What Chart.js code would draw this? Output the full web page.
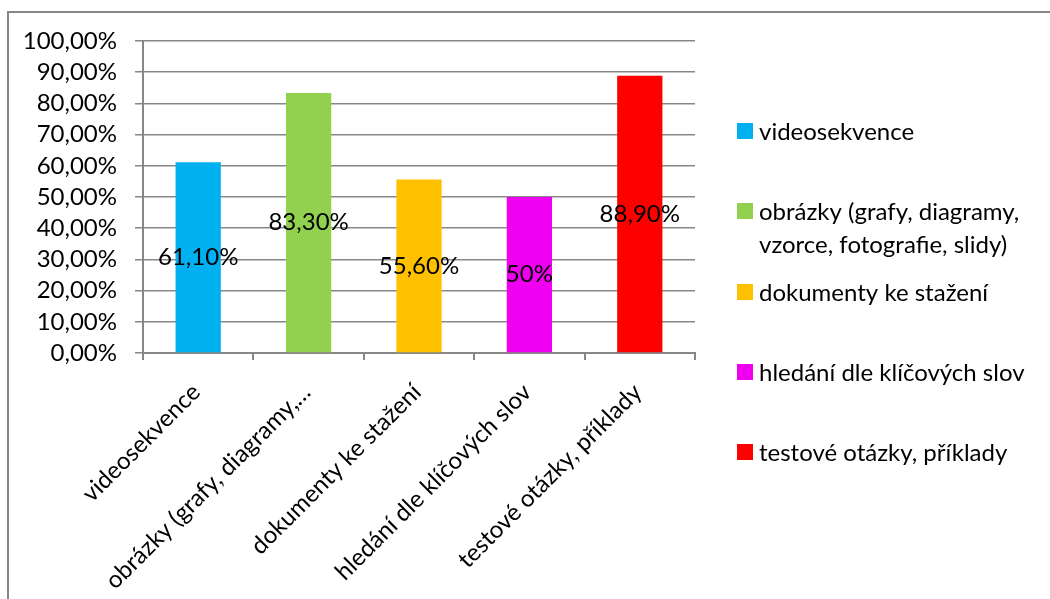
<!DOCTYPE html>
<html><head><meta charset="utf-8">
<script src="https://cdn.jsdelivr.net/npm/chart.js@4.4.1/dist/chart.umd.min.js"></script>
<style>
html,body{margin:0;padding:0;background:#fff;overflow:hidden}
#wrap{position:relative;width:1050px;height:599px;overflow:hidden}
#frame{position:absolute;left:7px;top:11px;width:1100px;height:700px;border-top:2px solid #868686;border-left:2px solid #868686;}
canvas{position:absolute;left:0;top:0}
</style></head><body>
<div id="wrap"><div id="frame"></div><canvas id="c" width="1050" height="599"></canvas></div>
<script>
const categories = ['videosekvence','obrázky (grafy, diagramy, vzorce, fotografie, slidy)','dokumenty ke stažení','hledání dle klíčových slov','testové otázky, příklady'];
const tickLabels = ['videosekvence','obrázky (grafy, diagramy,…','dokumenty ke stažení','hledání dle klíčových slov','testové otázky, příklady'];
const values = [61.1, 83.3, 55.6, 50, 88.9];
const dataLabels = ['61,10%','83,30%','55,60%','50%','88,90%'];
const legendLines = [['videosekvence'],['obrázky (grafy, diagramy,','vzorce, fotografie, slidy)'],['dokumenty ke stažení'],['hledání dle klíčových slov'],['testové otázky, příklady']];
const colors = ['#00B0F0','#92D050','#FFC000','#F000F0','#FF0000'];

const FONT = 'Lato';
const FS = 24;
const GRID = '#878787';

const dataLabelPlugin = {
  id: 'dataLabelPlugin',
  afterDatasetsDraw(chart) {
    const ctx = chart.ctx;
    const meta = chart.getDatasetMeta(0);
    ctx.save();
    ctx.font = FS + 'px ' + FONT;
    ctx.fillStyle = '#000';
    ctx.textAlign = 'center';
    ctx.textBaseline = 'middle';
    meta.data.forEach((bar, i) => {
      ctx.fillText(dataLabels[i], bar.x, (bar.y + bar.base) / 2);
    });
    ctx.restore();
  }
};

const legendPlugin = {
  id: 'legendPlugin',
  afterDraw(chart) {
    const ctx = chart.ctx;
    const centers = [131, 211, 292, 372, 452];
    const sqX = 737, sq = 16, txX = 759, lh = 33;
    ctx.save();
    ctx.font = FS + 'px ' + FONT;
    ctx.textAlign = 'left';
    ctx.textBaseline = 'middle';
    legendLines.forEach((lines, i) => {
      const cy = centers[i];
      ctx.fillStyle = colors[i];
      ctx.fillRect(sqX, cy - sq / 2, sq, sq);
      ctx.fillStyle = '#000';
      lines.forEach((t, j) => ctx.fillText(t, txX, cy + 1 + j * lh));
    });
    ctx.restore();
  }
};

new Chart(document.getElementById('c'), {
  type: 'bar',
  data: {
    labels: tickLabels,
    datasets: [{
      label: 'hodnoty',
      data: values,
      backgroundColor: colors,
      borderWidth: 0,
      barPercentage: 0.41,
      categoryPercentage: 1
    }]
  },
  options: {
    responsive: false,
    animation: false,
    devicePixelRatio: 1,
    layout: { padding: { left: 0, top: 41, right: 355, bottom: 0 } },
    plugins: { legend: { display: false }, tooltip: { enabled: false } },
    scales: {
      x: {
        grid: { display: true, drawOnChartArea: false, drawTicks: true, tickLength: 7, color: GRID, lineWidth: 2, offset: true },
        border: { color: GRID, width: 2 },
        ticks: { font: { family: FONT, size: FS }, color: '#000', minRotation: 45, maxRotation: 45, autoSkip: false, padding: 18, labelOffset: -2 },
        afterFit(s) { s.height = 246; }
      },
      y: {
        min: 0, max: 100,
        grid: { color: GRID, lineWidth: 1.5, tickLength: 8 },
        border: { color: GRID, width: 2 },
        ticks: {
          stepSize: 10, autoSkip: false,
          font: { family: FONT, size: FS }, color: '#000', padding: 18,
          callback: v => v.toFixed(2).replace('.', ',') + '%'
        },
        afterFit(s) { s.width = 143; }
      }
    }
  },
  plugins: [dataLabelPlugin, legendPlugin]
});
</script>
</body></html>
